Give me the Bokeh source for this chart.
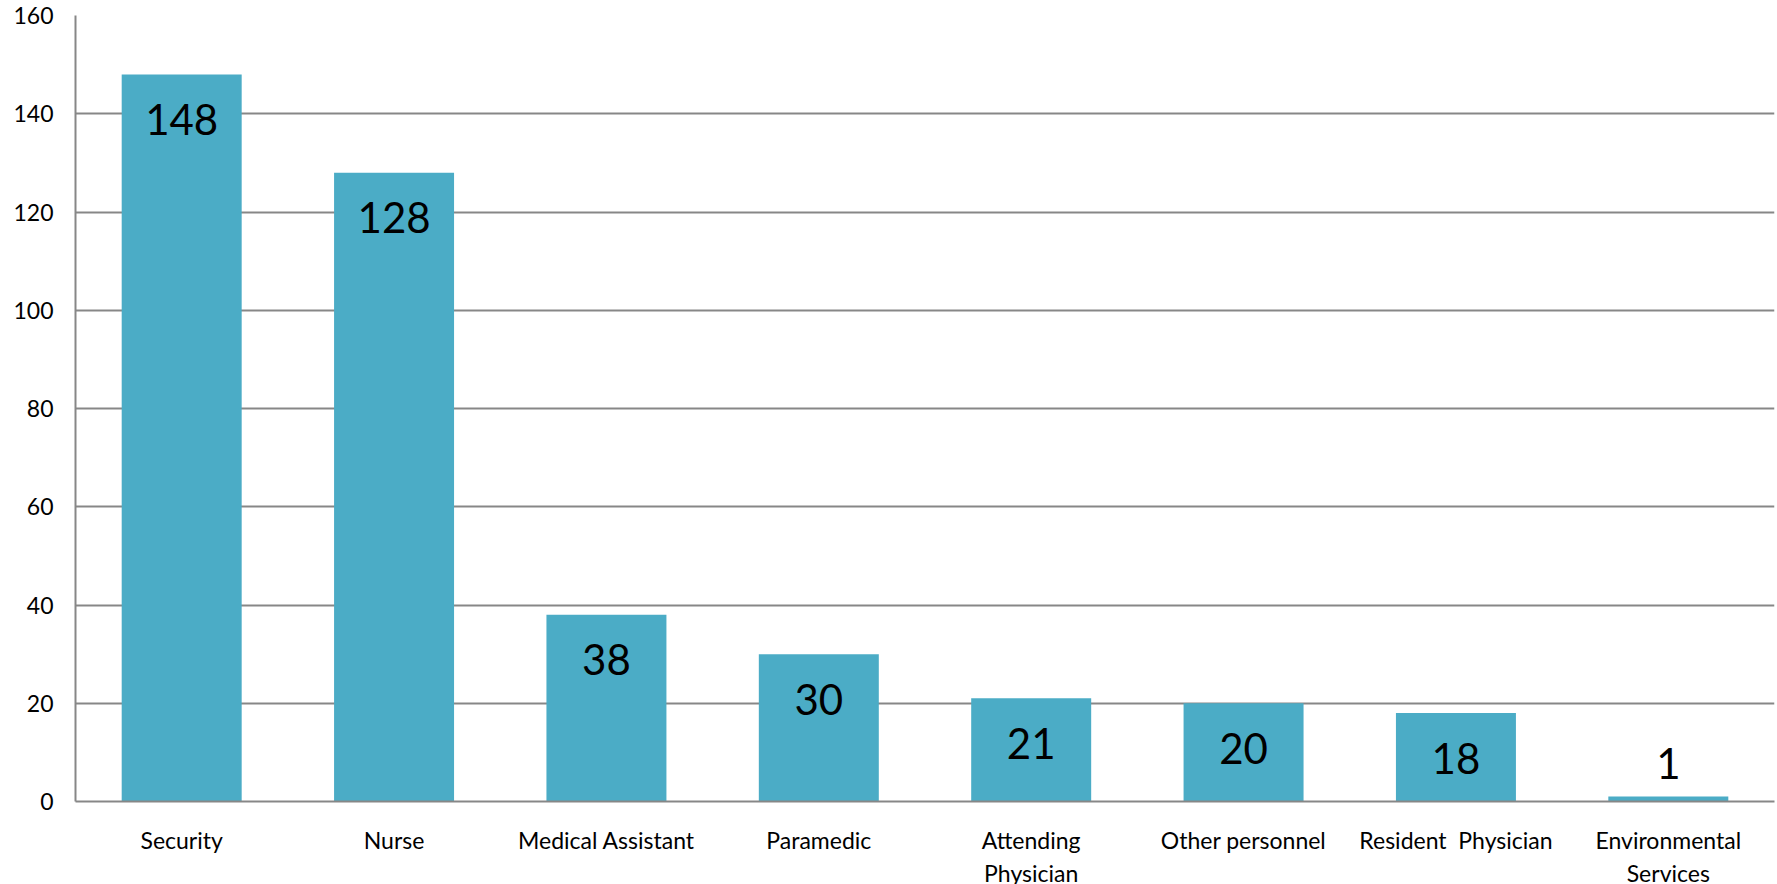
from bokeh.plotting import figure
from bokeh.models import ColumnDataSource, FactorRange, Range1d, FixedTicker
from bokeh.core.properties import value
from bokeh.embed import file_html
from bokeh.resources import INLINE

categories = ["Security", "Nurse", "Medical Assistant", "Paramedic",
              "Attending\nPhysician", "Other personnel", "Resident\u00a0\u00a0Physician",
              "Environmental\nServices"]
counts = [148, 128, 38, 30, 21, 20, 18, 1]
y_ticks = [0, 20, 40, 60, 80, 100, 120, 140, 160]

FONT = "Lato"
BAR = "#4BACC6"
GRID = "#878787"

labels = [str(c) for c in counts]
offsets = [45 if c > 10 else -33 for c in counts]

src = ColumnDataSource(dict(cat=categories, val=counts, lab=labels, off=offsets))

p = figure(x_range=FactorRange(*categories, range_padding=0),
           y_range=Range1d(0, 160),
           frame_width=1699, frame_height=786,
           min_border_left=75, min_border_right=3, min_border_top=15, min_border_bottom=83,
           output_backend="svg", toolbar_location=None)

p.vbar(x="cat", top="val", width=0.565, source=src, fill_color=BAR, line_color=None)
p.text(x="cat", y="val", text="lab", y_offset="off", source=src,
       text_align="center", text_baseline="middle",
       text_font=value(FONT), text_font_size="42px", text_color="black")

p.outline_line_color = None
p.xgrid.grid_line_color = None
p.ygrid.grid_line_color = GRID
p.ygrid.grid_line_width = 2
p.yaxis.ticker = FixedTicker(ticks=y_ticks)
p.yaxis.axis_line_color = GRID
p.yaxis.axis_line_width = 2
p.xaxis.axis_line_color = GRID
p.xaxis.axis_line_width = 2
for ax in (p.xaxis, p.yaxis):
    ax.major_tick_line_color = None
    ax.minor_tick_line_color = None
    ax.major_tick_out = 0
    ax.major_label_text_font = FONT
    ax.major_label_text_color = "black"
p.yaxis.major_label_text_font_size = "23px"
p.xaxis.major_label_text_font_size = "23px"
p.yaxis.major_label_standoff = 22
p.xaxis.major_label_standoff = 24

open("out.html", "w").write(file_html(p, INLINE))
